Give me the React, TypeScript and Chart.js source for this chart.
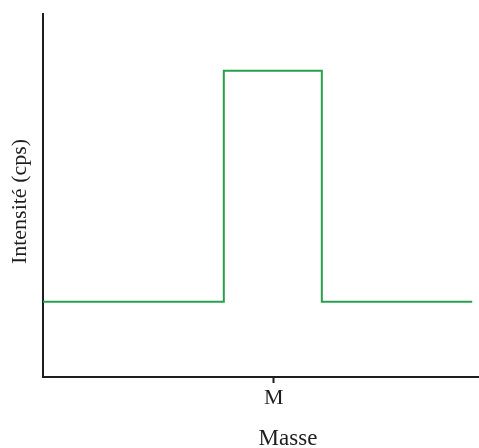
import React, { useEffect, useRef } from "react";
import { Chart, registerables } from "chart.js";

Chart.register(...registerables);

// Data (arbitrary mass units, intensity in arbitrary cps units)
const masses: number[] = [0, 36.9, 36.9, 56.9, 56.9, 87.6];
const intensities: number[] = [20.7, 20.7, 84.4, 84.4, 20.7, 20.7];
const tickPositions: number[] = [47.1];
const tickLabels: string[] = ["M"];
const xTitle = "Masse";
const yTitle = "Intensité (cps)";

const FONT = "'Liberation Serif', 'Times New Roman', serif";
const AXIS_COLOR = "#1e1e1e";
const LINE_COLOR = "#2a9e4c";

const yTitlePlugin = {
  id: "yTitleCustom",
  afterDraw(chart: any) {
    const { ctx, chartArea } = chart;
    ctx.save();
    ctx.fillStyle = AXIS_COLOR;
    ctx.font = `22px ${FONT}`;
    ctx.textAlign = "center";
    ctx.textBaseline = "middle";
    ctx.translate(20, (chartArea.top + chartArea.bottom) / 2 + 6);
    ctx.rotate(-Math.PI / 2);
    ctx.fillText(yTitle, 0, 0);
    ctx.restore();
  },
};

export default function App() {
  const ref = useRef<HTMLCanvasElement | null>(null);

  useEffect(() => {
    if (!ref.current) return;
    const chart = new Chart(ref.current, {
      type: "line",
      data: {
        datasets: [
          {
            data: masses.map((m, i) => ({ x: m, y: intensities[i] })),
            borderColor: LINE_COLOR,
            borderWidth: 2,
            pointRadius: 0,
            fill: false,
            tension: 0,
          },
        ],
      },
      options: {
        animation: false,
        responsive: false,
        maintainAspectRatio: false,
        layout: { padding: { top: 14, right: 0, left: 0, bottom: 0 } },
        plugins: { legend: { display: false }, tooltip: { enabled: false } },
        scales: {
          x: {
            type: "linear",
            min: 0,
            max: 100,
            afterBuildTicks: (s: any) => {
              s.ticks = tickPositions.map((v) => ({ value: v }));
            },
            afterFit: (s: any) => {
              s.height = 71;
            },
            grid: {
              display: true,
              drawOnChartArea: false,
              drawTicks: true,
              tickLength: 6,
              tickColor: AXIS_COLOR,
              tickWidth: 2,
            },
            border: { display: true, color: AXIS_COLOR, width: 2 },
            ticks: {
              color: AXIS_COLOR,
              padding: 2,
              maxRotation: 0,
              autoSkip: false,
              font: { family: FONT, size: 22 },
              callback: (_v: any, i: number) => tickLabels[i],
            },
            title: {
              display: true,
              text: xTitle,
              color: AXIS_COLOR,
              font: { family: FONT, size: 23, lineHeight: 0.8 },
              padding: 0,
            },
          },
          y: {
            type: "linear",
            min: 0,
            max: 100,
            afterFit: (s: any) => {
              s.width = 43;
            },
            grid: { display: false, drawTicks: false },
            border: { display: true, color: AXIS_COLOR, width: 2 },
            ticks: { display: false },
            title: { display: false, text: yTitle },
          },
        },
      },
      plugins: [yTitlePlugin],
    });
    return () => chart.destroy();
  }, []);

  return (
    <div
      style={{
        position: "fixed",
        left: 0,
        top: 0,
        width: 479,
        height: 448,
        overflow: "hidden",
        background: "#fff",
      }}
    >
      <canvas ref={ref} width={533} height={448} style={{ display: "block" }} />
    </div>
  );
}
